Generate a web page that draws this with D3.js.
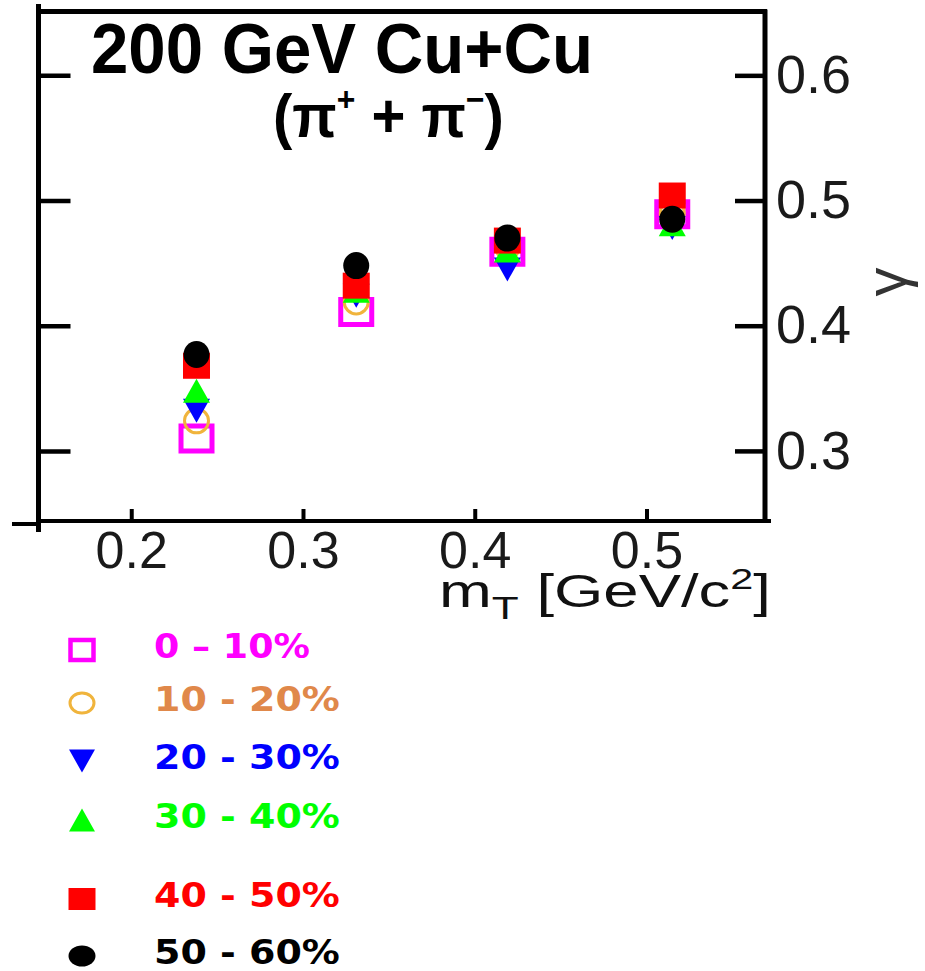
<!DOCTYPE html>
<html>
<head>
<meta charset="utf-8">
<script src="https://cdn.jsdelivr.net/npm/d3@7"></script>
<style>
  html, body { margin: 0; padding: 0; background: #fff; }
  svg { display: block; }
</style>
</head>
<body>
<svg id="chart" width="925" height="971"></svg>
<script>
// transverse mass bins (GeV/c^2)
const mT = [0.238, 0.331, 0.419, 0.515];

// exponent per centrality class
const gamma_0_10  = [0.310, 0.411, 0.459, 0.489];
const gamma_10_20 = [0.324, 0.419, 0.463, 0.490];
const gamma_20_30 = [0.332, 0.424, 0.445, 0.478];
const gamma_30_40 = [0.348, 0.428, 0.460, 0.481];
const gamma_40_50 = [0.368, 0.432, 0.468, 0.504];
const gamma_50_60 = [0.377, 0.448, 0.470, 0.485];

const centralityLabels = ["0 \u2013 10%", "10 - 20%", "20 - 30%", "30 - 40%", "40 - 50%", "50 - 60%"];

const xTicks = [0.2, 0.3, 0.4, 0.5];
const yTicks = [0.3, 0.4, 0.5, 0.6];

const titleText = "200 GeV Cu+Cu";

// ---- styling per centrality class ----
const seriesStyle = [
  { shape: "square", filled: false, color: "#ff00ff", text: "#ff00ff" },
  { shape: "circle", filled: false, color: "#f0b43c", text: "#e0884a" },
  { shape: "tdown",  filled: true,  color: "#0000ff", text: "#0000ff" },
  { shape: "tup",    filled: true,  color: "#00ff00", text: "#00ff00" },
  { shape: "square", filled: true,  color: "#ff0000", text: "#ff0000" },
  { shape: "circle", filled: true,  color: "#000000", text: "#000000" }
];
const seriesValues = [gamma_0_10, gamma_10_20, gamma_20_30, gamma_30_40, gamma_40_50, gamma_50_60];

const series = seriesValues.map((vals, i) => ({
  label: centralityLabels[i],
  style: seriesStyle[i],
  points: vals.map((g, j) => ({ mT: mT[j], g }))
}));

const svg = d3.select("#chart");
const FONT = "'Liberation Sans', Arial, Helvetica, sans-serif";

// frame box
const frameL = 38.5, frameR = 765, frameT = 11.5, frameB = 521;
const x = d3.scaleLinear().domain([0.146, 0.569]).range([frameL, frameR]);
const y = d3.scaleLinear().domain([0.244, 0.651]).range([frameB, frameT]);

// symbol outlines centred on (0,0)
function symbolPath(shape, w, h) {
  const a = w / 2, b = h / 2;
  switch (shape) {
    case "square": return `M${-a},${-b}H${a}V${b}H${-a}Z`;
    case "circle": return `M${-a},0A${a},${b} 0 1 0 ${a},0A${a},${b} 0 1 0 ${-a},0Z`;
    case "tdown":  return `M${-a},${-b}L${a},${-b}L0,${b}Z`;
    case "tup":    return `M${-a},${b}L${a},${b}L0,${-b}Z`;
  }
}
function markerSize(style, legend) {
  if (legend) {
    if (style.shape === "square") return style.filled ? [27, 22, 0] : [23, 20, 4.5];
    if (style.shape === "circle") return style.filled ? [27, 21, 0] : [24, 20, 3];
    return [26, 23, 0];
  }
  if (style.shape === "square") return style.filled ? [27, 26, 0] : [31, 25, 5];
  if (style.shape === "circle") return style.filled ? [26, 27, 0] : [24, 24, 3];
  return [27, 24, 0];
}
function drawMarker(sel, style, legend) {
  const [w, h, sw] = markerSize(style, legend);
  sel.attr("d", symbolPath(style.shape, w, h))
    .attr("fill", style.filled ? style.color : "none")
    .attr("stroke", style.filled ? "none" : style.color)
    .attr("stroke-width", sw);
}

// stretch a text element horizontally to a given width
function fitWidth(textSel, x0, baseline, width) {
  const len = textSel.node().getComputedTextLength();
  textSel.attr("transform", `translate(${x0},${baseline}) scale(${width / len},1)`);
}

// ---- axes (inward ticks) ----
const axisR = svg.append("g")
  .attr("transform", `translate(${frameR},0)`)
  .call(d3.axisRight(y).tickValues(yTicks).tickFormat(d3.format(".1f"))
    .tickSizeInner(-30).tickSizeOuter(0).tickPadding(11));
axisR.select(".domain").remove();
axisR.selectAll(".tick line").attr("stroke", "#000").attr("stroke-width", 4.5);
axisR.selectAll(".tick text").attr("font-family", FONT).attr("font-size", 54).attr("fill", "#1a1a1a");

const axisL = svg.append("g")
  .attr("transform", `translate(${frameL},0)`)
  .call(d3.axisLeft(y).tickValues(yTicks).tickFormat("")
    .tickSizeInner(-32).tickSizeOuter(0));
axisL.select(".domain").remove();
axisL.selectAll(".tick line").attr("stroke", "#000").attr("stroke-width", 4.5);

const axisB = svg.append("g")
  .attr("transform", `translate(0,${frameB})`)
  .call(d3.axisBottom(x).tickValues(xTicks).tickFormat(d3.format(".1f"))
    .tickSizeInner(-12).tickSizeOuter(0).tickPadding(10));
axisB.select(".domain").remove();
axisB.selectAll(".tick line").attr("stroke", "#000").attr("stroke-width", 4);
axisB.selectAll(".tick text").attr("font-family", FONT).attr("font-size", 52).attr("fill", "#1a1a1a");

// ---- frame ----
const frame = svg.append("g").attr("stroke", "#000").attr("stroke-linecap", "butt");
frame.append("line").attr("x1", frameL).attr("x2", frameL).attr("y1", 4).attr("y2", frameB + 11).attr("stroke-width", 5);
frame.append("line").attr("x1", frameL - 2).attr("x2", frameR + 2).attr("y1", frameT).attr("y2", frameT).attr("stroke-width", 5);
frame.append("line").attr("x1", frameR).attr("x2", frameR).attr("y1", frameT - 2).attr("y2", frameB).attr("stroke-width", 5);
frame.append("line").attr("x1", frameL).attr("x2", frameR + 6).attr("y1", frameB).attr("y2", frameB).attr("stroke-width", 4);
frame.append("line").attr("x1", 12).attr("x2", frameL).attr("y1", frameB + 3).attr("y2", frameB + 3).attr("stroke-width", 4);

// ---- data markers ----
series.forEach(s => {
  svg.append("g").selectAll("path").data(s.points).join("path")
    .attr("transform", d => `translate(${x(d.mT)},${y(d.g)})`)
    .call(sel => drawMarker(sel, s.style, false));
});

// ---- title ----
const t1 = svg.append("text").attr("font-family", FONT).attr("font-weight", "bold")
  .attr("font-size", 70).attr("fill", "#000").text(titleText);
fitWidth(t1, 91, 73, 502);

const t2 = svg.append("text").attr("font-family", FONT).attr("font-weight", "bold")
  .attr("font-size", 62).attr("fill", "#000");
t2.append("tspan").text("(\u03c0");
t2.append("tspan").attr("font-size", 34).attr("dy", -26).text("+");
t2.append("tspan").attr("dy", 26).text(" + \u03c0");
t2.append("tspan").attr("font-size", 34).attr("dy", -26).text("\u2212");
t2.append("tspan").attr("dy", 26).text(")");
fitWidth(t2, 273, 137, 231);

// ---- axis titles ----
const xt = svg.append("text").attr("font-family", FONT).attr("font-size", 46).attr("fill", "#111");
xt.append("tspan").text("m");
xt.append("tspan").attr("font-size", 32).attr("dy", 12).text("T");
xt.append("tspan").attr("dy", -12).text(" [GeV/c");
xt.append("tspan").attr("font-size", 30).attr("dy", -18).text("2");
xt.append("tspan").attr("dy", 18).text("]");
fitWidth(xt, 439, 607, 332);

svg.append("text").attr("font-family", FONT).attr("font-size", 58).attr("fill", "#333")
  .attr("text-anchor", "middle")
  .attr("transform", "translate(906,282) rotate(-90)")
  .text("\u03b3");

// ---- legend ----
const legendRows = [650, 703, 761, 820, 899, 956];
series.forEach((s, i) => {
  const cy = legendRows[i];
  svg.append("path").attr("transform", `translate(82,${cy})`).call(sel => drawMarker(sel, s.style, true));
  const lt = svg.append("text").attr("font-family", "'DejaVu Sans', sans-serif").attr("font-weight", "bold")
    .attr("font-size", 34).attr("fill", s.style.text).text(s.label);
  fitWidth(lt, 154, cy + 8, i === 0 ? 156 : 186);
});
</script>
</body>
</html>
